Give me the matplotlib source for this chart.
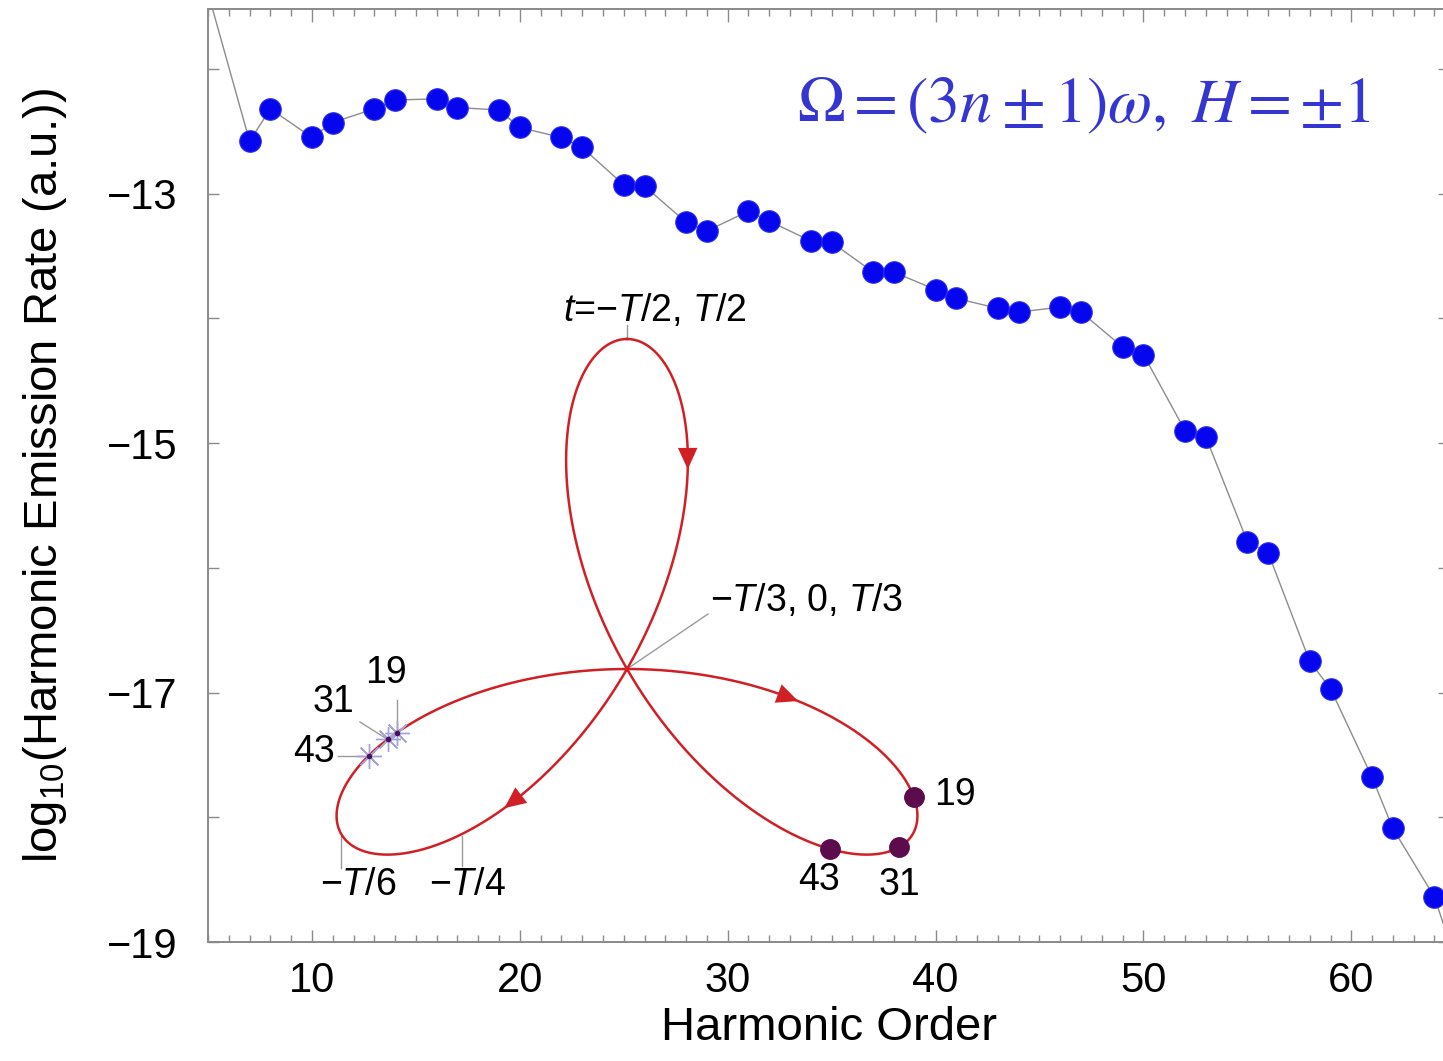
import numpy as np
import matplotlib
matplotlib.use('Agg')
import matplotlib.pyplot as plt
from matplotlib.ticker import FixedLocator, MultipleLocator

plt.rcParams['font.family'] = ['Liberation Sans', 'DejaVu Sans']
plt.rcParams['mathtext.fontset'] = 'custom'
plt.rcParams['mathtext.rm'] = 'Liberation Sans'
plt.rcParams['mathtext.it'] = 'Liberation Sans:italic'
plt.rcParams['mathtext.bf'] = 'Liberation Sans:bold'

# ── harmonic spectrum (3n±1 orders) ─────────────────────────────────────────
harmonic = [5, 7, 8, 10, 11, 13, 14, 16, 17, 19, 20, 22, 23, 25, 26, 28, 29,
            31, 32, 34, 35, 37, 38, 40, 41, 43, 44, 46, 47, 49, 50, 52, 53,
            55, 56, 58, 59, 61, 62, 64, 65]
log_rate = [-11.39, -12.58, -12.32, -12.55, -12.43, -12.32, -12.25, -12.24,
            -12.31, -12.33, -12.47, -12.55, -12.63, -12.93, -12.94, -13.23,
            -13.30, -13.14, -13.22, -13.38, -13.39, -13.63, -13.63, -13.77,
            -13.84, -13.92, -13.95, -13.91, -13.95, -14.23, -14.29, -14.90,
            -14.95, -15.79, -15.88, -16.75, -16.97, -17.68, -18.09, -18.64,
            -19.14]

# ── inset: field polarisation, E(t) ~ e^{iwt} - e^{-2iwt} ───────────────────
t_over_T = np.linspace(-0.5, 0.5, 1201)
arrow_t = [-0.41, 0.055, -0.274]
emit_orders = ['19', '31', '43']
ion_t = [-0.086, -0.091, -0.103]      # ionisation times (stars)
rec_t = [0.1336, 0.1845, 0.231]       # recombination times (dots)

R = 330.0   # lobe length in inset units (pixels)
RED = '#d01f25'
GREY = '#9a9a9a'


def field(tau):
    phi = 2 * np.pi * np.asarray(tau)
    z = (np.exp(1j * phi) - np.exp(-2j * phi)) / 2j
    return R * z.real, R * z.imag


W, H = 1443, 1061
fig = plt.figure(figsize=(W / 100, H / 100), dpi=100)
ax = fig.add_axes([208 / W, (H - 942) / H, (1449 - 208) / W, (942 - 9) / H])

ax.plot(harmonic, log_rate, '-', color='#8c8c8c', lw=1.0, zorder=2)
ax.plot(harmonic, log_rate, 'o', color='#0606ee', ms=15.5, mec='#2a2af0',
        mew=0.8, zorder=3)

ax.set_xlim(5, 64.7)
ax.set_ylim(-19, -11.52)
ax.xaxis.set_major_locator(MultipleLocator(10))
ax.xaxis.set_minor_locator(MultipleLocator(1))
ax.yaxis.set_major_locator(FixedLocator([-19, -17, -15, -13]))
ax.yaxis.set_minor_locator(FixedLocator([-18, -16, -14, -12]))
ax.tick_params(which='both', direction='in', top=True, right=True,
               color='#8a8a8a', width=1.0)
ax.tick_params(axis='x', which='major', length=9, labelsize=30, pad=14)
ax.tick_params(axis='x', which='minor', length=5)
ax.tick_params(axis='y', which='both', length=8, labelsize=30, pad=22)
for s in ax.spines.values():
    s.set_color('#8a8a8a')
    s.set_linewidth(1.4)

ax.set_xlabel('Harmonic Order', fontsize=34, labelpad=3)
ax.set_ylabel('log$_{10}$(Harmonic Emission Rate (a.u.))', fontsize=34,
              labelpad=27)

fig.text(797 / W, 1 - 106 / H,
         r'$\Omega = \left(3n \pm 1\right)\omega,\ H = \pm 1$',
         math_fontfamily='stix', fontsize=46, color='#3535d2',
         ha='left', va='center')

# ── inset drawing ───────────────────────────────────────────────────────────
cx, cy, S = 627, 669, 420
ins = fig.add_axes([(cx - S) / W, (H - cy - S) / H, 2 * S / W, 2 * S / H])
ins.set_xlim(-S, S)
ins.set_ylim(-S, S)
ins.set_axis_off()
ins.patch.set_alpha(0)

x, y = field(t_over_T)
ins.plot(x, y, color=RED, lw=1.8, zorder=2)

for ta in arrow_t:
    p0 = field(ta - 0.004)
    p1 = field(ta + 0.004)
    ins.annotate('', xy=p1, xytext=p0,
                 arrowprops=dict(arrowstyle='-|>,head_length=0.7,head_width=0.32',
                                 mutation_scale=22, color=RED, lw=0,
                                 shrinkA=0, shrinkB=0))

ix, iy = field(ion_t)
ins.plot(ix, iy, ls='none', marker=(8, 2, 0), ms=18, mew=1.0,
         color='#a4a4da', zorder=4)
ins.plot(ix, iy, ls='none', marker='o', ms=3, color='#4a1060', zorder=5)

rx, ry = field(rec_t)
ins.plot(rx, ry, ls='none', marker='o', ms=14, color='#5c0c4c',
         mec='#5c0c4c', zorder=5)

lab = dict(fontsize=27, ha='center', va='center')
lkw = dict(color=GREY, lw=1.0, zorder=1)

# time labels
tx, ty = field(-0.5)
ins.plot([tx, tx], [ty, ty + 14], **lkw)
ins.text(28, 358, '$t$=−$T$/2, $T$/2', **lab)

ins.plot([0, 81], [0, 55], **lkw)
ins.text(83, 69, '−$T$/3, 0, $T$/3', fontsize=27, ha='left', va='center')

tx, ty = field(-1 / 6)
ins.plot([tx, tx], [ty - 2, -199], **lkw)
ins.text(-269, -216, '−$T$/6', **lab)

tx, ty = field(-0.25)
ins.plot([tx, tx], [ty - 2, -197], **lkw)
ins.text(-160, -216, '−$T$/4', **lab)

# ionisation labels (stars)
ins.plot([ix[0], ix[0]], [iy[0], -31], **lkw)
ins.text(-241, -4, emit_orders[0], **lab)
ins.plot([ix[1], -267], [iy[1], -53], **lkw)
ins.text(-294, -33, emit_orders[1], **lab)
ins.plot([ix[2], -289], [iy[2], iy[2]], **lkw)
ins.text(-313, -83, emit_orders[2], **lab)

# recombination labels (dots)
ins.text(328, -126, emit_orders[0], **lab)
ins.text(272, -216, emit_orders[1], **lab)
ins.text(192, -211, emit_orders[2], **lab)

fig.savefig('out.png', dpi=100)
